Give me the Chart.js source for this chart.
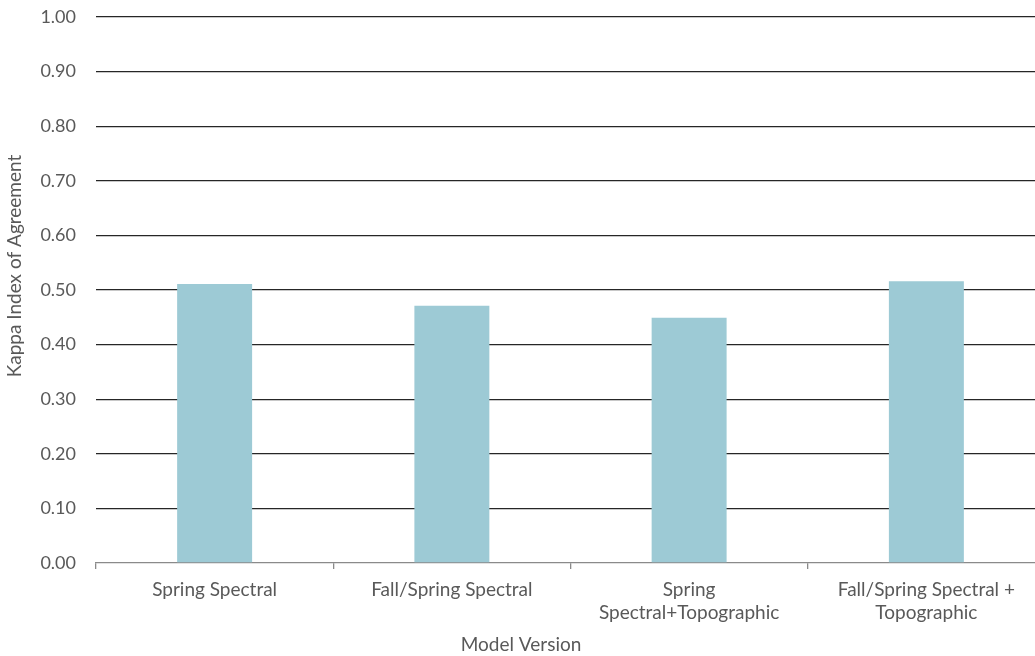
<!DOCTYPE html>
<html>
<head>
<meta charset="utf-8">
<script src="https://cdn.jsdelivr.net/npm/chart.js@4.4.1/dist/chart.umd.min.js"></script>
<style>
  html, body { margin: 0; padding: 0; background: #ffffff; overflow: hidden; }
  #wrap { position: relative; width: 1050px; height: 656px; }
</style>
</head>
<body>
<div id="wrap"><canvas id="chart"></canvas></div>
<script>
// Model versions and their kappa scores
const categories = [
  'Spring Spectral',
  'Fall/Spring Spectral',
  ['Spring', 'Spectral+Topographic'],
  ['Fall/Spring Spectral +', 'Topographic']
];
const kappaValues = [0.511, 0.471, 0.449, 0.516];
const yTicks = [0, 0.1, 0.2, 0.3, 0.4, 0.5, 0.6, 0.7, 0.8, 0.9, 1.0];
const xAxisTitle = 'Model Version';
const yAxisTitle = 'Kappa Index of Agreement';

const FONT = 'Lato, "Open Sans", sans-serif';
const TEXT = '#595959';

// Axis titles placed in the reserved margins
const axisTitles = {
  id: 'axisTitles',
  afterDraw(chart) {
    const ctx = chart.ctx;
    ctx.save();
    ctx.fillStyle = TEXT;
    ctx.font = '19px ' + FONT;
    ctx.textAlign = 'center';
    ctx.textBaseline = 'middle';
    ctx.fillText(xAxisTitle, 521, 645);
    ctx.translate(15, 266);
    ctx.rotate(-Math.PI / 2);
    ctx.fillText(yAxisTitle, 0, 0);
    ctx.restore();
  }
};

new Chart(document.getElementById('chart'), {
  type: 'bar',
  data: {
    labels: categories,
    datasets: [{
      data: kappaValues,
      backgroundColor: '#9DCAD5',
      borderWidth: 0,
      categoryPercentage: 1,
      barPercentage: 0.316
    }]
  },
  options: {
    responsive: true,
    maintainAspectRatio: false,
    animation: false,
    layout: { padding: { top: 17, right: 5, left: 0, bottom: 0 } },
    plugins: { legend: { display: false }, tooltip: { enabled: false } },
    scales: {
      x: {
        offset: true,
        afterFit(scale) { scale.height = 93; },
        grid: {
          display: true,
          offset: true,
          drawOnChartArea: false,
          drawTicks: true,
          tickLength: 6,
          color: '#8a8a8a',
          lineWidth: 1.3
        },
        border: { display: true, color: '#8a8a8a', width: 1.3 },
        ticks: {
          color: TEXT,
          padding: 9,
          maxRotation: 0,
          autoSkip: false,
          font: { family: FONT, size: 19, lineHeight: 1.22 }
        }
      },
      y: {
        min: 0,
        max: 1,
        afterFit(scale) {
          scale.width = 96;
          scale.paddingTop = 0;
          scale.paddingBottom = 0;
        },
        afterBuildTicks(scale) { scale.ticks = yTicks.map(v => ({ value: v })); },
        grid: {
          drawTicks: false,
          color: ctx => (ctx.tick && ctx.tick.value === 0 ? 'rgba(0,0,0,0)' : '#262626'),
          lineWidth: 1.3
        },
        border: { display: false },
        ticks: {
          color: TEXT,
          padding: 20,
          font: { family: FONT, size: 18 },
          callback: v => Number(v).toFixed(2)
        }
      }
    }
  },
  plugins: [axisTitles]
});
</script>
</body>
</html>
